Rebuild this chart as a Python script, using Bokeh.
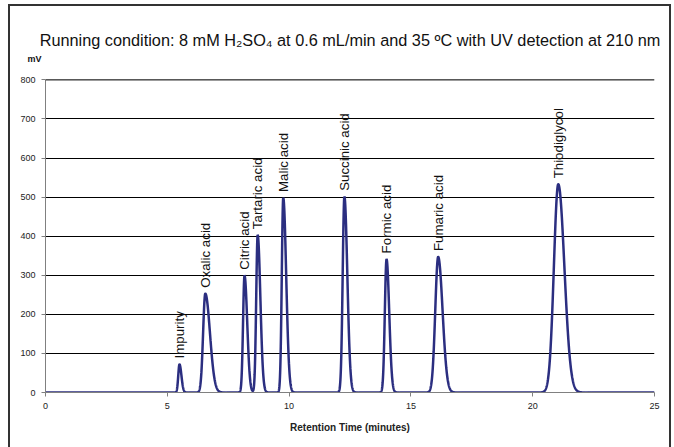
import numpy as np
from bokeh.plotting import figure
from bokeh.models import SingleIntervalTicker, ColumnDataSource, Title, Span
from bokeh.core.properties import value
from bokeh.embed import file_html
from bokeh.resources import INLINE

# ---- data ----
peak_names = ["Impurity", "Oxalic acid", "Citric acid", "Tartaric acid", "Malic acid",
              "Succinic acid", "Formic acid", "Fumaric acid", "Thiodiglycol"]
retention_min = [5.50, 6.56, 8.17, 8.71, 9.76, 12.27, 14.00, 16.12, 21.05]
peak_mv = [72, 253, 299, 403, 498, 501, 341, 347, 533]
sigma_left = [0.05, 0.09, 0.06, 0.06, 0.06, 0.07, 0.07, 0.12, 0.18]
sigma_right = [0.08, 0.19, 0.11, 0.11, 0.12, 0.12, 0.11, 0.18, 0.25]
x_ticks_interval = 5
y_ticks_interval = 100
y_max = 800
title_text = "Running condition: 8 mM H\u2082SO\u2084 at 0.6 mL/min and 35 \u00baC with UV detection at 210 nm"
x_label = "Retention Time (minutes)"
y_unit = "mV"

# build the trace from the peak table
t = np.linspace(0, 25, 5001)
signal = np.zeros_like(t)
for rt, h, sl, sr in zip(retention_min, peak_mv, sigma_left, sigma_right):
    d = t - rt
    s = np.where(d < 0, sl, sr)
    signal += h * np.exp(-0.5 * (d / s) ** 2)

FONT = "Liberation Sans"

p = figure(width=674, height=447, x_range=(0, 25), y_range=(0, y_max + 1),
           output_backend="svg", toolbar_location=None,
           min_border_left=45, min_border_right=20, min_border_top=79, min_border_bottom=55)
p.background_fill_color = "white"
p.border_fill_color = None
p.outline_line_color = None
# outer chart frame (drawn as CSS background behind the transparent border area)
p.styles = {
    "background-color": "white",
    "background-image": "linear-gradient(#333,#333), linear-gradient(#333,#333), linear-gradient(#333,#333)",
    "background-size": "2px 460px, 663px 2px, 2px 460px",
    "background-position": "8px 4px, 8px 4px, 669px 4px",
    "background-repeat": "no-repeat",
}

p.title.text = title_text
p.title.align = "center"
p.title.text_font = FONT
p.title.text_font_size = "16.3px"
p.title.text_font_style = "normal"
p.title.text_color = "#111111"
p.title.standoff = -26

p.add_layout(Title(text=y_unit, align="left", offset=-18, text_font=FONT, text_font_size="9px",
                   text_font_style="bold", text_color="#111111", standoff=32), "above")

p.xgrid.grid_line_color = None
p.ygrid.grid_line_color = "black"
p.ygrid.grid_line_width = 1
p.add_layout(Span(location=y_max, dimension="width", line_color="black", line_width=1))

p.xaxis.ticker = SingleIntervalTicker(interval=x_ticks_interval)
p.yaxis.ticker = SingleIntervalTicker(interval=y_ticks_interval)
for ax in (p.xaxis, p.yaxis):
    ax.axis_line_color = "#808080"
    ax.major_tick_line_color = "#808080"
    ax.major_tick_out = 4
    ax.major_tick_in = 0
    ax.minor_tick_line_color = None
    ax.major_label_text_font = FONT
    ax.major_label_text_font_size = "9px"
    ax.major_label_text_color = "#222222"
    ax.major_label_standoff = 6
p.xaxis.axis_label = x_label
p.xaxis.axis_label_text_font = FONT
p.xaxis.axis_label_text_font_size = "10px"
p.xaxis.axis_label_text_font_style = "bold"
p.xaxis.axis_label_text_color = "#222222"
p.xaxis.axis_label_standoff = 10

p.line(t, signal, line_color="#2B2E80", line_width=2.5)

src = ColumnDataSource(dict(x=retention_min, y=[v + 15 for v in peak_mv], name=peak_names))
p.text(x="x", y="y", text="name", source=src, angle=np.pi / 2,
       text_align="left", text_baseline="middle",
       text_font=value(FONT), text_font_size="13.3px", text_color="#111111")

open("out.html", "w").write(file_html(p, INLINE))
